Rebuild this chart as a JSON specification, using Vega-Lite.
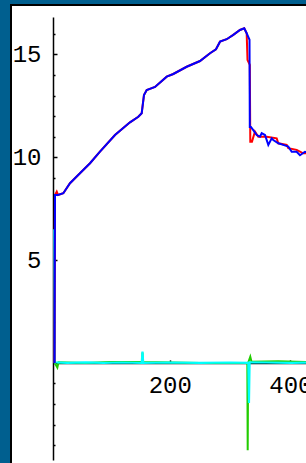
{
  "$schema": "https://vega.github.io/schema/vega-lite/v6.json",
  "width": 296,
  "height": 459,
  "autosize": "none",
  "padding": {"left": 11, "top": 5, "right": -1, "bottom": -1},
  "background": "#005f8f",
  "view": {"fill": "white", "stroke": "black", "strokeWidth": 2},
  "datasets": {
    "blue": [{"x":8.8,"y":0.0},{"x":9.6,"y":8.17},{"x":14.6,"y":8.17},{"x":23.4,"y":8.25},{"x":34.5,"y":8.74},{"x":51,"y":9.22},{"x":67.7,"y":9.71},{"x":84.2,"y":10.27},{"x":109.1,"y":11.08},{"x":134,"y":11.7},{"x":147.8,"y":11.97},{"x":153.4,"y":12.14},{"x":157.2,"y":13.03},{"x":161.7,"y":13.27},{"x":175.5,"y":13.42},{"x":194.9,"y":13.92},{"x":205.8,"y":14.05},{"x":228,"y":14.4},{"x":250.1,"y":14.68},{"x":266.7,"y":15.06},{"x":276.6,"y":15.25},{"x":283.3,"y":15.62},{"x":294.4,"y":15.74},{"x":305.3,"y":15.95},{"x":316.4,"y":16.19},{"x":323.5,"y":16.27},{"x":327.5,"y":16.03},{"x":332.2,"y":15.71},{"x":332.7,"y":11.47},{"x":334.6,"y":11.47},{"x":338.5,"y":11.32},{"x":344.1,"y":11.08},{"x":349.6,"y":11.0},{"x":352.4,"y":11.17},{"x":357.9,"y":11.08},{"x":363.4,"y":10.6},{"x":369,"y":10.92},{"x":371.6,"y":10.84},{"x":380,"y":10.68},{"x":388.2,"y":10.6},{"x":396.5,"y":10.52},{"x":402.2,"y":10.27},{"x":410.4,"y":10.27},{"x":415.9,"y":10.1},{"x":424.2,"y":10.27},{"x":427,"y":10.25}],
    "red": [{"x":8.8,"y":0.0},{"x":9.6,"y":8.17},{"x":12.5,"y":8.33},{"x":14.6,"y":8.17},{"x":23.4,"y":8.25},{"x":34.5,"y":8.74},{"x":51,"y":9.22},{"x":67.7,"y":9.71},{"x":84.2,"y":10.27},{"x":109.1,"y":11.08},{"x":134,"y":11.7},{"x":147.8,"y":11.97},{"x":153.4,"y":12.14},{"x":157.2,"y":13.03},{"x":161.7,"y":13.27},{"x":175.5,"y":13.42},{"x":194.9,"y":13.92},{"x":205.8,"y":14.05},{"x":228,"y":14.4},{"x":250.1,"y":14.68},{"x":266.7,"y":15.06},{"x":276.6,"y":15.25},{"x":283.3,"y":15.62},{"x":294.4,"y":15.74},{"x":305.3,"y":15.95},{"x":316.4,"y":16.19},{"x":323.5,"y":16.27},{"x":327.5,"y":16.03},{"x":328.9,"y":14.73},{"x":332.7,"y":14.49},{"x":333.5,"y":10.76},{"x":336.3,"y":10.76},{"x":341.3,"y":11.25},{"x":346.8,"y":11.0},{"x":360.7,"y":11.0},{"x":377.3,"y":10.92},{"x":380,"y":10.68},{"x":393.9,"y":10.6},{"x":396.5,"y":10.44},{"x":410.4,"y":10.36},{"x":421.3,"y":10.19},{"x":427,"y":10.2}],
    "cyan": [{"x":8.3,"y":6.5},{"x":9.3,"y":0.03},{"x":30,"y":0.0},{"x":60,"y":0.03},{"x":90,"y":0.0},{"x":120,"y":0.02},{"x":153.5,"y":0.0},{"x":154.7,"y":0.55},{"x":155.9,"y":0.0},{"x":200,"y":0.02},{"x":250,"y":0.0},{"x":300,"y":0.02},{"x":330.2,"y":0.0},{"x":331.3,"y":-1.95},{"x":332.4,"y":0.03},{"x":360,"y":0.02},{"x":400,"y":0.0},{"x":427,"y":0.02}],
    "green": [{"x":9.3,"y":0.0},{"x":13.5,"y":-0.22},{"x":15.5,"y":0.03},{"x":60,"y":0.0},{"x":100,"y":0.04},{"x":154.2,"y":0.05},{"x":154.7,"y":0.5},{"x":155.3,"y":0.05},{"x":250,"y":0.0},{"x":328.6,"y":0.0},{"x":329.2,"y":-4.24},{"x":329.9,"y":0.0},{"x":333.5,"y":0.3},{"x":335.5,"y":0.06},{"x":380,"y":0.08},{"x":427,"y":0.05}]
  },
  "encoding": {
    "x": {
      "field": "x", "type": "quantitative",
      "scale": {"domain": [6.3, 425.9], "range": [42, 295], "nice": false, "zero": false},
      "axis": {
        "orient": "bottom", "offset": -101.1, "values": [200, 400], "format": "d", "title": null, "grid": false,
        "domainColor": "black", "domainWidth": 1.5, "tickColor": "black", "tickSize": -3, "tickWidth": 1.5,
        "labelPadding": 14, "labelFont": "Liberation Mono", "labelFontSize": 24, "labelColor": "black",
        "labelBaseline": "top", "labelFlush": false, "labelOverlap": false
      }
    },
    "y": {
      "field": "y", "type": "quantitative",
      "scale": {"domain": [-4.72, 16.82], "range": [455, 12], "nice": false, "zero": false},
      "axis": {
        "orient": "left", "offset": -42, "values": [-4,-3,-2,-1,1,2,3,4,5,6,7,8,9,10,11,12,13,14,15,16],
        "labelExpr": "datum.value > 0 && datum.value % 5 === 0 ? datum.label : ''",
        "title": null, "grid": false,
        "domainColor": "black", "domainWidth": 1.5, "tickColor": "black", "tickWidth": 1.5,
        "tickSize": {"condition": {"test": "datum.value % 5 === 0", "value": -4}, "value": -2},
        "labelPadding": 16, "labelFont": "Liberation Mono", "labelFontSize": 24, "labelColor": "black",
        "labelBaseline": "middle", "labelFlush": false, "labelOverlap": false
      }
    }
  },
  "layer": [
    {"data": {"name": "green"}, "mark": {"type": "line", "color": "#22cc00", "strokeWidth": 2}},
    {"data": {"name": "cyan"}, "mark": {"type": "line", "color": "#00ffff", "strokeWidth": 2.2}},
    {"data": {"name": "red"}, "mark": {"type": "line", "color": "#ff0000", "strokeWidth": 2}},
    {"data": {"name": "blue"}, "mark": {"type": "line", "color": "#0000ff", "strokeWidth": 2}}
  ]
}
